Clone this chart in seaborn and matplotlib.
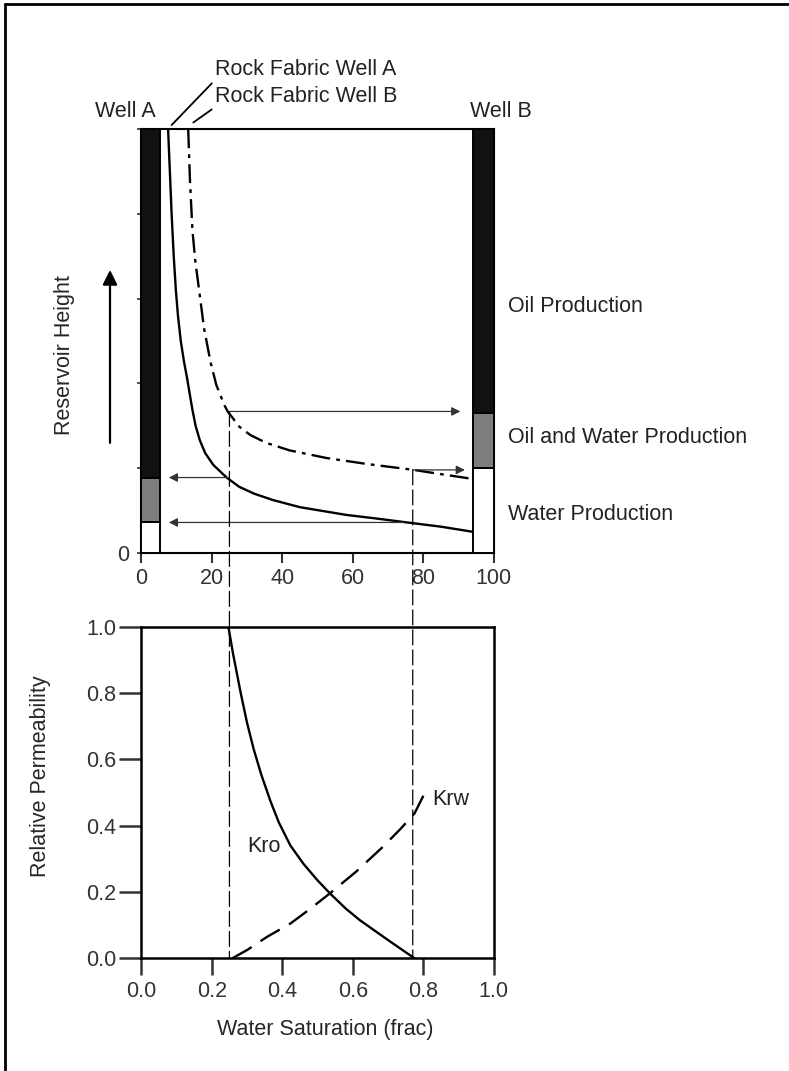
import numpy as np
import pandas as pd
import seaborn as sns
import matplotlib.pyplot as plt
from matplotlib.patches import ConnectionPatch
from matplotlib.lines import Line2D
from matplotlib.ticker import FormatStrFormatter

# height vs water saturation (%) for the two rock fabrics
sw_well_a = [7.6, 8.1, 8.6, 9.2, 9.8, 10.4, 11.2, 12.1, 13.0, 13.8, 14.5, 15.4, 16.6, 18.1, 20.4, 24.2,
             27.8, 32.0, 37.3, 45.0, 58.3, 66.0, 75.4, 85.0, 94.0]
h_well_a = [5.0, 4.5, 4.0, 3.5, 3.1, 2.8, 2.5, 2.26, 2.06, 1.86, 1.69, 1.50, 1.33, 1.18, 1.04, 0.89,
            0.78, 0.70, 0.625, 0.54, 0.448, 0.41, 0.36, 0.31, 0.25]
sw_well_b = [13.3, 13.8, 14.5, 15.3, 16.4, 17.8, 19.7, 21.3, 23.5, 24.5, 27.8, 31.0, 35.4, 42.1,
             52.6, 64.0, 77.3, 85.0, 93.0]
h_well_b = [5.0, 4.4, 3.81, 3.45, 3.10, 2.65, 2.24, 1.98, 1.75, 1.67, 1.49, 1.39, 1.30, 1.21,
            1.12, 1.05, 0.98, 0.93, 0.88]

# production zones in each well (top of water / oil+water / oil zone)
zone_names = ["Water Production", "Oil and Water Production", "Oil Production"]
well_a_zone_tops = [0.37, 0.89, 5.0]
well_b_zone_tops = [1.0, 1.65, 5.0]

# relative permeability curves
sw_kro = [0.247, 0.26, 0.282, 0.30, 0.319, 0.34, 0.366, 0.39, 0.423, 0.46, 0.50, 0.535, 0.58, 0.62, 0.70, 0.775]
kro = [1.0, 0.92, 0.80, 0.71, 0.63, 0.555, 0.475, 0.41, 0.34, 0.285, 0.235, 0.196, 0.15, 0.115, 0.055, 0.0]
sw_krw = [0.258, 0.30, 0.357, 0.423, 0.48, 0.535, 0.61, 0.685, 0.735, 0.775, 0.808]
krw = [0.0, 0.025, 0.065, 0.105, 0.15, 0.196, 0.262, 0.336, 0.39, 0.437, 0.507]

# cutoff saturations and heights where they hit the curves
cutoff_sw = [0.25, 0.77]
cut_h_well_a = [0.89, 0.36]
cut_h_well_b = [1.67, 0.98]

sns.set_style("ticks")
plt.rcParams["font.family"] = ["Liberation Sans", "DejaVu Sans"]
plt.rcParams["font.size"] = 15.5
plt.rcParams["text.color"] = "#222222"

fig = plt.figure(figsize=(7.89, 10.71), dpi=100)
ax_top = fig.add_axes([0.1791, 0.4837, 0.4468, 0.3956])
ax_bot = fig.add_axes([0.1791, 0.1052, 0.4468, 0.3096])

# ---------------- top panel ----------------
df_a = pd.DataFrame({"sw": sw_well_a, "h": h_well_a})
df_b = pd.DataFrame({"sw": sw_well_b, "h": h_well_b})
sns.lineplot(data=df_a, x="sw", y="h", ax=ax_top, color="black", lw=1.7, sort=False)
sns.lineplot(data=df_b, x="sw", y="h", ax=ax_top, color="black", lw=1.7, sort=False,
             linestyle=(0, (8, 2.6, 1.6, 2.6)))

zone_colors = ["white", "#7d7d7d", "#111111"]
for x0, w, tops in [(0.0, 5.2, well_a_zone_tops), (94.2, 5.8, well_b_zone_tops)]:
    bottoms = [0.0] + tops[:-1]
    heights = np.array(tops) - np.array(bottoms)
    ax_top.bar([x0] * 3, heights, bottom=bottoms, width=w, align="edge",
               color=zone_colors, edgecolor="black", lw=1.4, clip_on=False, zorder=3)

arrow_kw = dict(arrowstyle="-|>", lw=0.9, color="#333333", mutation_scale=13,
                shrinkA=0, shrinkB=0)
for sw, ha, hb in zip(cutoff_sw, cut_h_well_a, cut_h_well_b):
    ax_top.annotate("", xy=(90.5 if sw < 0.5 else 91.8, hb), xytext=(sw * 100, hb), arrowprops=arrow_kw)
    ax_top.annotate("", xy=(7.8, ha), xytext=(sw * 100 - (2.5 if sw > 0.5 else 0), ha), arrowprops=arrow_kw)

ax_top.set_xlim(0, 100)
ax_top.set_ylim(0, 5)
ax_top.set_xticks([0, 20, 40, 60, 80, 100])
ax_top.set_yticks([0, 1, 2, 3, 4, 5])
ax_top.set_yticklabels(["0", "", "", "", "", ""])
ax_top.tick_params(axis="x", length=7, width=1.5, pad=3.6, labelsize=15.5, colors="#333333")
ax_top.tick_params(axis="y", length=3, width=1.2, pad=6, labelsize=15.5, colors="#333333")
ax_top.set_xlabel("")
ax_top.set_ylabel("Reservoir Height")
ax_top.yaxis.set_label_coords(-0.187, 0.467)
for s in ax_top.spines.values():
    s.set_linewidth(1.5)
    s.set_color("black")

ax_top.annotate("", xy=(-0.0888, 3.34), xytext=(-0.0888, 1.30),
                xycoords=("axes fraction", "data"), textcoords=("axes fraction", "data"),
                arrowprops=dict(arrowstyle="-|>", lw=1.6, color="black", mutation_scale=22,
                                shrinkA=0, shrinkB=0), annotation_clip=False)

ax_top.text(4.2, 5.145, "Well A", ha="right", va="baseline", clip_on=False)
ax_top.text(93.2, 5.145, "Well B", ha="left", va="baseline", clip_on=False)
lead_kw = dict(arrowstyle="-", lw=1.3, color="black", shrinkA=0, shrinkB=0, relpos=(0, 0))
ax_top.annotate("Rock Fabric Well A", xy=(8.6, 5.05), xytext=(20.9, 5.64), va="baseline",
                arrowprops=lead_kw, annotation_clip=False)
ax_top.annotate("Rock Fabric Well B", xy=(14.75, 5.08), xytext=(20.9, 5.32), va="baseline",
                arrowprops=lead_kw, annotation_clip=False)

zone_label_y = [0.39, 1.30, 2.84]
for name, y in zip(zone_names, zone_label_y):
    ax_top.text(104.0, y, name, ha="left", va="baseline", clip_on=False)

# ---------------- bottom panel ----------------
df_kro = pd.DataFrame({"sw": sw_kro, "k": kro})
df_krw = pd.DataFrame({"sw": sw_krw, "k": krw})
sns.lineplot(data=df_kro, x="sw", y="k", ax=ax_bot, color="black", lw=1.7, sort=False)
sns.lineplot(data=df_krw, x="sw", y="k", ax=ax_bot, color="black", lw=1.7, sort=False,
             linestyle=(0, (9.5, 4.5)))
ax_bot.text(0.30, 0.32, "Kro", ha="left", va="baseline")
ax_bot.text(0.825, 0.463, "Krw", ha="left", va="baseline")

ax_bot.set_xlim(0, 1)
ax_bot.set_ylim(0, 1)
ax_bot.set_xticks(np.arange(0, 1.01, 0.2))
ax_bot.set_yticks(np.arange(0, 1.01, 0.2))
ax_bot.xaxis.set_major_formatter(FormatStrFormatter("%.1f"))
ax_bot.yaxis.set_major_formatter(FormatStrFormatter("%.1f"))
ax_bot.tick_params(axis="x", length=12, width=1.8, pad=4.3, labelsize=15.5, colors="#333333")
ax_bot.tick_params(axis="y", length=16, width=1.8, pad=2, labelsize=15.5, colors="#333333")
ax_bot.set_xlabel("Water Saturation (frac)")
ax_bot.set_ylabel("Relative Permeability")
ax_bot.xaxis.set_label_coords(0.521, -0.183)
ax_bot.yaxis.set_label_coords(-0.257, 0.55)
for s in ax_bot.spines.values():
    s.set_linewidth(1.8)
    s.set_color("black")

# cutoff lines running from the upper curves down to the Kr plot
for sw, hb in zip(cutoff_sw, cut_h_well_b):
    con = ConnectionPatch(xyA=(sw * 100, hb), coordsA=ax_top.transData,
                          xyB=(sw, 0), coordsB=ax_bot.transData,
                          lw=0.9, color="black", linestyle=(0, (12, 4)))
    fig.add_artist(con)

# page frame (left and top edges)
fig.add_artist(Line2D([0.0067, 0.0067], [0, 0.9965], transform=fig.transFigure, color="black", lw=2))
fig.add_artist(Line2D([0.0067, 1], [0.9965, 0.9965], transform=fig.transFigure, color="black", lw=2))

fig.savefig("out.png", dpi=100)
